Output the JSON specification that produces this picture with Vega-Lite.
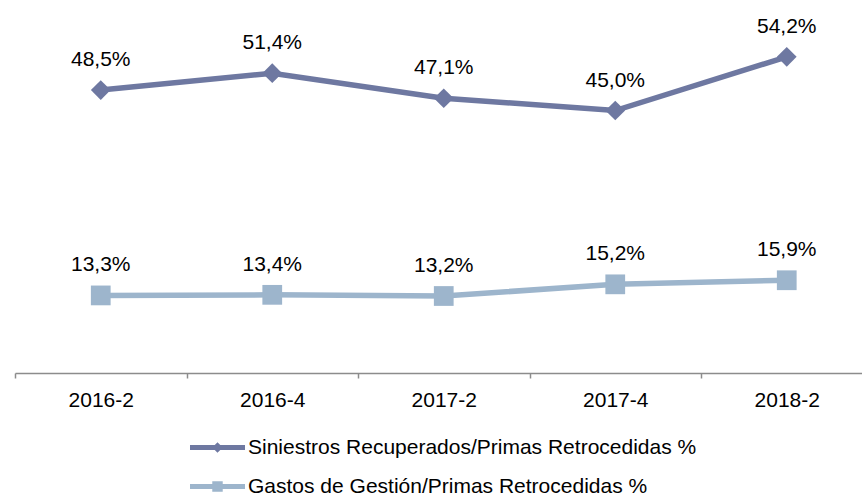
{
  "$schema": "https://vega.github.io/schema/vega-lite/v6.json",
  "width": 847,
  "height": 350,
  "autosize": {"type": "none"},
  "padding": {"left": 15, "top": 23, "right": 0, "bottom": 122},
  "background": "white",
  "config": {"view": {"stroke": null}, "font": "Liberation Sans"},
  "data": {
    "values": [
      {"period": "2016-2", "series": "Siniestros Recuperados/Primas Retrocedidas %", "value": 48.5, "label": "48,5%"},
      {"period": "2016-4", "series": "Siniestros Recuperados/Primas Retrocedidas %", "value": 51.4, "label": "51,4%"},
      {"period": "2017-2", "series": "Siniestros Recuperados/Primas Retrocedidas %", "value": 47.1, "label": "47,1%"},
      {"period": "2017-4", "series": "Siniestros Recuperados/Primas Retrocedidas %", "value": 45.0, "label": "45,0%"},
      {"period": "2018-2", "series": "Siniestros Recuperados/Primas Retrocedidas %", "value": 54.2, "label": "54,2%"},
      {"period": "2016-2", "series": "Gastos de Gestión/Primas Retrocedidas %", "value": 13.3, "label": "13,3%"},
      {"period": "2016-4", "series": "Gastos de Gestión/Primas Retrocedidas %", "value": 13.4, "label": "13,4%"},
      {"period": "2017-2", "series": "Gastos de Gestión/Primas Retrocedidas %", "value": 13.2, "label": "13,2%"},
      {"period": "2017-4", "series": "Gastos de Gestión/Primas Retrocedidas %", "value": 15.2, "label": "15,2%"},
      {"period": "2018-2", "series": "Gastos de Gestión/Primas Retrocedidas %", "value": 15.9, "label": "15,9%"}
    ]
  },
  "encoding": {
    "x": {
      "field": "period",
      "type": "ordinal",
      "sort": null,
      "bandPosition": 0.5,
      "scale": {"type": "band", "range": [0, 857.5], "paddingInner": 0, "paddingOuter": 0},
      "axis": {
        "title": null,
        "labelAngle": 0,
        "labelFontSize": 21,
        "labelFont": "Liberation Sans",
        "labelColor": "#000000",
        "labelPadding": 11,
        "tickBand": "extent",
        "tickSize": 5,
        "tickColor": "#8C8C8C",
        "tickWidth": 1.5,
        "domainColor": "#8C8C8C",
        "domainWidth": 1.5,
        "grid": false
      }
    },
    "y": {
      "field": "value",
      "type": "quantitative",
      "scale": {"domain": [0, 60], "nice": false, "zero": true},
      "axis": null
    }
  },
  "layer": [
    {
      "mark": {"type": "line", "strokeWidth": 5.5},
      "encoding": {
        "color": {
          "field": "series",
          "type": "nominal",
          "scale": {
            "domain": ["Siniestros Recuperados/Primas Retrocedidas %", "Gastos de Gestión/Primas Retrocedidas %"],
            "range": ["#6E78A1", "#9DB5CC"]
          },
          "legend": null
        }
      }
    },
    {
      "mark": {"type": "point", "filled": true, "opacity": 1, "size": 390, "strokeWidth": 0},
      "encoding": {
        "color": {
          "field": "series",
          "type": "nominal",
          "scale": {
            "domain": ["Siniestros Recuperados/Primas Retrocedidas %", "Gastos de Gestión/Primas Retrocedidas %"],
            "range": ["#6E78A1", "#9DB5CC"]
          },
          "legend": null
        },
        "shape": {
          "field": "series",
          "type": "nominal",
          "scale": {
            "domain": ["Siniestros Recuperados/Primas Retrocedidas %", "Gastos de Gestión/Primas Retrocedidas %"],
            "range": ["diamond", "square"]
          },
          "legend": null
        }
      }
    },
    {
      "mark": {"type": "text", "dy": -24, "baseline": "alphabetic", "align": "center", "fontSize": 21, "font": "Liberation Sans", "color": "#000000"},
      "encoding": {"text": {"field": "label", "type": "nominal"}}
    },
    {
      "mark": {"type": "point", "filled": true, "opacity": 0, "strokeWidth": 0},
      "encoding": {
        "color": {
          "field": "series",
          "type": "nominal",
          "scale": {
            "domain": ["Siniestros Recuperados/Primas Retrocedidas %", "Gastos de Gestión/Primas Retrocedidas %"],
            "range": ["#6E78A1", "#9DB5CC"]
          },
          "legend": {
            "orient": "none", "legendX": 175, "legendY": 397, "direction": "vertical", "title": null,
            "symbolSize": 3025, "symbolOpacity": 1, "symbolStrokeWidth": 0,
            "labelFontSize": 21, "labelFont": "Liberation Sans", "labelColor": "#000000",
            "labelOffset": 3, "labelLimit": 0, "padding": 0, "rowPadding": 1
          }
        },
        "shape": {
          "field": "series",
          "type": "nominal",
          "scale": {
            "domain": ["Siniestros Recuperados/Primas Retrocedidas %", "Gastos de Gestión/Primas Retrocedidas %"],
            "range": [
              "M-1,-0.09L1,-0.09L1,0.09L-1,0.09Z M-0.19,0L0,-0.19L0.19,0L0,0.19Z",
              "M-1,-0.09L1,-0.09L1,0.09L-1,0.09Z M-0.19,-0.19L0.19,-0.19L0.19,0.19L-0.19,0.19Z"
            ]
          },
          "legend": {
            "orient": "none", "legendX": 175, "legendY": 397, "direction": "vertical", "title": null,
            "symbolSize": 3025, "symbolOpacity": 1, "symbolStrokeWidth": 0,
            "labelFontSize": 21, "labelFont": "Liberation Sans", "labelColor": "#000000",
            "labelOffset": 3, "labelLimit": 0, "padding": 0, "rowPadding": 1
          }
        }
      }
    }
  ],
  "resolve": {"scale": {"shape": "independent", "color": "independent"}}
}
